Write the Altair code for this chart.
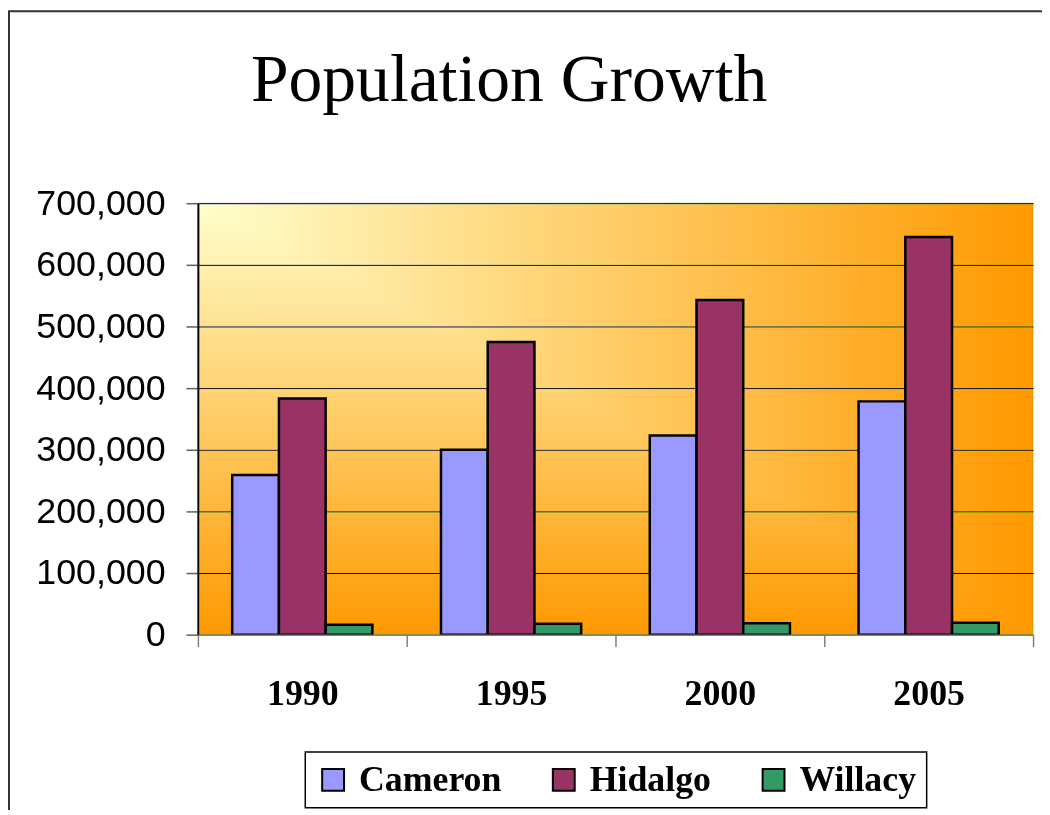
import altair as alt
import pandas as pd

# ---- data ----
years = ["1990", "1995", "2000", "2005"]
counties = ["Cameron", "Hidalgo", "Willacy"]
cameron = [259000, 300000, 323000, 378500]
hidalgo = [383000, 475000, 543000, 645000]
willacy = [16000, 17700, 18500, 19500]
y_ticks = [0, 100000, 200000, 300000, 400000, 500000, 600000, 700000]
colors = ["#9999FF", "#993366", "#339966"]

rows = []
for name, vals in zip(counties, [cameron, hidalgo, willacy]):
    for yr, v in zip(years, vals):
        rows.append({"Year": yr, "County": name, "Population": v})
df = pd.DataFrame(rows)

W, H = 840, 434
one = pd.DataFrame({"k": [0]})


def grad(x2, y2):
    return alt.LinearGradient(
        gradient="linear",
        stops=[alt.GradientStop(color="#FFFFCC", offset=0),
               alt.GradientStop(color="#FF9900", offset=1)],
        x1=0, y1=0, x2=x2, y2=y2,
    )


bg_h = alt.Chart(one).mark_rect(color=grad(1, 0), blend="darken").encode(
    x=alt.value(0), x2=alt.value(W), y=alt.value(0), y2=alt.value(H))
bg_v = alt.Chart(one).mark_rect(color=grad(0, 1), blend="darken").encode(
    x=alt.value(0), x2=alt.value(W), y=alt.value(0), y2=alt.value(H))

bars = alt.Chart(df).mark_bar(stroke="black", strokeWidth=2.5).encode(
    x=alt.X("Year:N", sort=years, title=None,
            scale=alt.Scale(paddingInner=0, paddingOuter=0),
            axis=alt.Axis(labelAngle=0, labelFont="Liberation Serif",
                          labelFontWeight="bold", labelFontSize=36,
                          labelColor="black", labelPadding=30,
                          tickBand="extent", tickSize=12, tickColor="#808080",
                          tickWidth=1.5, domainColor="#808080", domainWidth=1.5,
                          grid=False, zindex=1)),
    xOffset=alt.XOffset("County:N", sort=counties,
                        scale=alt.Scale(paddingInner=0, paddingOuter=0.734)),
    y=alt.Y("Population:Q", title=None,
            scale=alt.Scale(domain=[0, 700000], nice=False),
            axis=alt.Axis(values=y_ticks, format=",.0f", labelFont="Liberation Sans",
                          labelFontSize=36, labelColor="black", labelPadding=21,
                          tickSize=12, tickColor="#606060", tickWidth=1.5,
                          domainColor="black", domainWidth=2,
                          grid=True, gridColor="black", gridWidth=1, gridOpacity=1)),
    color=alt.Color("County:N", sort=counties,
                    scale=alt.Scale(domain=counties, range=colors),
                    legend=alt.Legend(title=None, orient="none", legendX=108, legendY=552,
                                      direction="horizontal", strokeColor="black",
                                      fillColor="white", padding=10,
                                      symbolType="square", symbolSize=484,
                                      symbolStrokeColor="black", symbolStrokeWidth=2,
                                      symbolOpacity=1,
                                      labelFont="Liberation Serif", labelFontSize=36,
                                      labelFontWeight="bold", labelColor="black",
                                      labelOffset=8, columnPadding=44, labelLimit=400)),
)

frame = alt.Chart(one).mark_rect(fill="transparent", stroke="#333333", strokeWidth=2).encode(
    x=alt.value(-190), x2=alt.value(950), y=alt.value(-193), y2=alt.value(700))

chart = alt.layer(bg_h, bg_v, bars, frame).properties(
    width=W, height=H,
    padding={"left": 191, "top": 194, "right": 9, "bottom": 174},
    autosize=alt.AutoSizeParams(type="none"),
    title=alt.TitleParams("Population Growth", font="Liberation Serif", fontSize=68,
                          fontWeight="normal", color="black", anchor="middle",
                          frame="group", dx=-107, offset=0, dy=159,
                          baseline="alphabetic"),
).configure_view(stroke="#e6e6e6", strokeWidth=2).configure_legend(strokeWidth=1.5)

chart.save("out.html", embed_options={"renderer": "svg", "actions": False})
